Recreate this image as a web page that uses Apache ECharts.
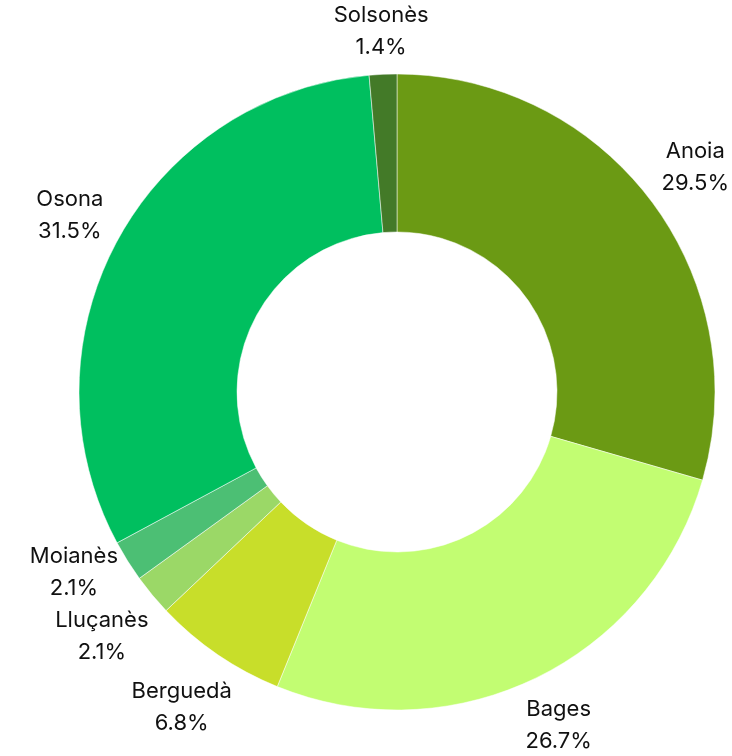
<!DOCTYPE html>
<html>
<head>
<meta charset="utf-8">
<script src="https://cdn.jsdelivr.net/npm/echarts@6/dist/echarts.min.js"></script>
<style>
  html, body { margin: 0; padding: 0; background: #fff; }
  #pieChart { width: 732px; height: 756px; }
</style>
</head>
<body>
<div id="pieChart"></div>
<script>
const comarques = ['Anoia', 'Bages', 'Berguedà', 'Lluçanès', 'Moianès', 'Osona', 'Solsonès']
const percentatges = [29.5, 26.7, 6.8, 2.1, 2.1, 31.5, 1.4]
const colors = ['#6b9a14', '#c2fd72', '#c8de2a', '#9bd867', '#4cbf74', '#00bf5f', '#437a28']

const myChart = echarts.init(document.getElementById('pieChart'))

const pieCenter = [397, 392]
const outerR = 318
const labelGap = 9 // distància entre la vora del donut i la caixa de l'etiqueta

const total = percentatges.reduce((a, b) => a + b, 0)
// angle central de cada sector (des de dalt, en sentit horari)
const midAngles = []
let acc = 0
percentatges.forEach((v) => {
  midAngles.push(((acc + v / 2) / total) * Math.PI * 2)
  acc += v
})

const placed = [] // caixes ja col·locades, per evitar solapaments

const option = {
  animation: false,
  textStyle: { fontFamily: 'Inter, sans-serif' },
  series: [
    {
      type: 'pie',
      center: pieCenter,
      radius: [160, outerR],
      startAngle: 90,
      clockwise: true,
      avoidLabelOverlap: false,
      data: comarques.map((name, i) => ({
        name: name,
        value: percentatges[i],
        itemStyle: { color: colors[i] }
      })),
      itemStyle: {
        borderColor: '#ffffff',
        borderWidth: 0.5
      },
      label: {
        show: true,
        position: 'outside',
        formatter: (p) => p.name + '\n' + p.value.toFixed(1) + '%',
        color: '#111',
        fontSize: 22,
        lineHeight: 32,
        overflow: 'none'
      },
      labelLine: {
        show: false
      },
      // centra cada etiqueta sobre la línia radial del sector
      labelLayout: (params) => {
        const i = params.dataIndex
        const a = midAngles[i]
        const ux = Math.sin(a)
        const uy = -Math.cos(a)
        const w = params.labelRect.width
        const h = params.labelRect.height
        const d = outerR + labelGap + Math.abs(ux) * w / 2 + Math.abs(uy) * h / 2
        const x = pieCenter[0] + ux * d
        let y = pieCenter[1] + uy * d
        // al costat esquerre, cada etiqueta ha de quedar per sobre de l'anterior
        const prev = placed[i - 1]
        if (ux < 0 && prev && prev.left) {
          const overlapX = Math.abs(x - prev.x) < (w + prev.w) / 2
          if (overlapX && y + h / 2 > prev.y - prev.h / 2) {
            y = prev.y - prev.h / 2 - h / 2
          }
        }
        placed[i] = { x: x, y: y, w: w, h: h, left: ux < 0 }
        return {
          x: x,
          y: y,
          align: 'center',
          verticalAlign: 'middle'
        }
      },
      emphasis: { disabled: true }
    }
  ]
}

option && myChart.setOption(option)
</script>
</body>
</html>
